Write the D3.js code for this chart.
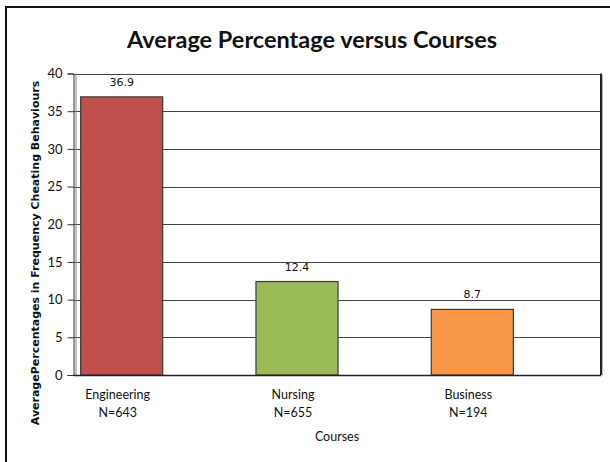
<!DOCTYPE html>
<html><head><meta charset="utf-8">
<script src="https://cdn.jsdelivr.net/npm/d3@7"></script>
<style>body{margin:0;background:#fff}svg{display:block;font-family:Lato,"Open Sans",sans-serif}</style>
</head><body>
<svg id="c" width="610" height="462"></svg>
<script>
const categories = ["Engineering", "Nursing", "Business"];
const sampleSizes = ["N=643", "N=655", "N=194"];
const values = [36.9, 12.4, 8.7];
const colors = ["#C0504D", "#9BBB59", "#F79646"];
const yTicks = [0, 5, 10, 15, 20, 25, 30, 35, 40];
const title = "Average Percentage versus Courses";
const yLabel = "AveragePercentages in Frequency Cheating Behaviours";
const xLabel = "Courses";

const svg = d3.select("#c");
const plot = {left: 73.5, right: 601, top: 73.5, bottom: 375};

// outer border
svg.append("rect").attr("x", 6).attr("y", 7).attr("width", 620).attr("height", 470)
  .attr("fill", "none").attr("stroke", "#111").attr("stroke-width", 2);

svg.append("text").attr("x", 312).attr("y", 48).attr("text-anchor", "middle")
  .attr("font-size", 23.5).attr("font-weight", "bold").attr("fill", "#111").text(title);

const y = d3.scaleLinear().domain([0, 40]).range([plot.bottom, plot.top]);
const x = d3.scaleBand().domain(categories).range([34, 560]).paddingInner(0.532).paddingOuter(0.266);

// gridlines
svg.append("g").selectAll("line").data(yTicks.filter(d => d > 0)).join("line")
  .attr("x1", plot.left).attr("x2", plot.right)
  .attr("y1", d => Math.round(y(d)) + 0.5).attr("y2", d => Math.round(y(d)) + 0.5)
  .attr("stroke", "#444").attr("stroke-width", 1);

// right frame edge
svg.append("line").attr("x1", plot.right).attr("x2", plot.right).attr("y1", plot.top).attr("y2", plot.bottom)
  .attr("stroke", "#222").attr("stroke-width", 2);
svg.append("line").attr("x1", plot.right + 1.5).attr("x2", plot.right + 1.5).attr("y1", plot.top + 1).attr("y2", plot.bottom + 1)
  .attr("stroke", "#bbb").attr("stroke-width", 1);

// inner left frame line
svg.append("line").attr("x1", plot.left + 2.5).attr("x2", plot.left + 2.5).attr("y1", plot.top).attr("y2", plot.bottom)
  .attr("stroke", "#888").attr("stroke-width", 1);

// bars
svg.append("g").selectAll("rect").data(values).join("rect")
  .attr("x", (d, i) => x(categories[i]))
  .attr("y", d => y(d))
  .attr("width", x.bandwidth())
  .attr("height", d => y(0) - y(d))
  .attr("fill", (d, i) => colors[i])
  .attr("stroke", "#3a3a3a").attr("stroke-width", 1.2);

// value labels
svg.append("g").selectAll("text").data(values).join("text")
  .attr("x", (d, i) => x(categories[i]) + x.bandwidth() / 2)
  .attr("y", d => y(d) - 11)
  .attr("text-anchor", "middle").attr("fill", "#111")
  .style("font-family", "'DejaVu Sans', sans-serif").style("font-size", "11px")
  .text(d => d.toFixed(1));

// y axis
const yAxis = d3.axisLeft(y).tickValues(yTicks).tickSize(6).tickPadding(5);
const ga = svg.append("g").attr("transform", `translate(${plot.left},0)`).call(yAxis);
ga.attr("font-family", null).attr("font-size", null);
ga.select(".domain").attr("stroke", "#333");
ga.selectAll(".tick line").attr("stroke", "#333");
ga.selectAll(".tick text").attr("fill", "#111")
  .style("font-family", "Lato, sans-serif").style("font-size", "13px");

// x axis line
svg.append("line").attr("x1", plot.left).attr("x2", plot.right).attr("y1", plot.bottom + 0.5).attr("y2", plot.bottom + 0.5)
  .attr("stroke", "#222").attr("stroke-width", 1.3);

// category labels
const cl = svg.append("g").selectAll("text").data(categories).join("text")
  .attr("text-anchor", "middle").attr("font-size", 12.5).attr("fill", "#111");
cl.append("tspan").attr("x", d => x(d) + x.bandwidth() / 2 - 4).attr("y", 399).text(d => d);
cl.append("tspan").attr("x", d => x(d) + x.bandwidth() / 2 - 4).attr("y", 417).text((d, i) => sampleSizes[i]);

svg.append("text").attr("x", 337).attr("y", 441).attr("text-anchor", "middle")
  .attr("font-size", 12.5).attr("fill", "#111").text(xLabel);

svg.append("text").attr("transform", "translate(39,253) rotate(-90)").attr("text-anchor", "middle")
  .attr("fill", "#111")
  .style("font-family", "'DejaVu Sans', sans-serif").style("font-size", "11px").style("font-weight", "bold")
  .text(yLabel);
</script>
</body></html>
